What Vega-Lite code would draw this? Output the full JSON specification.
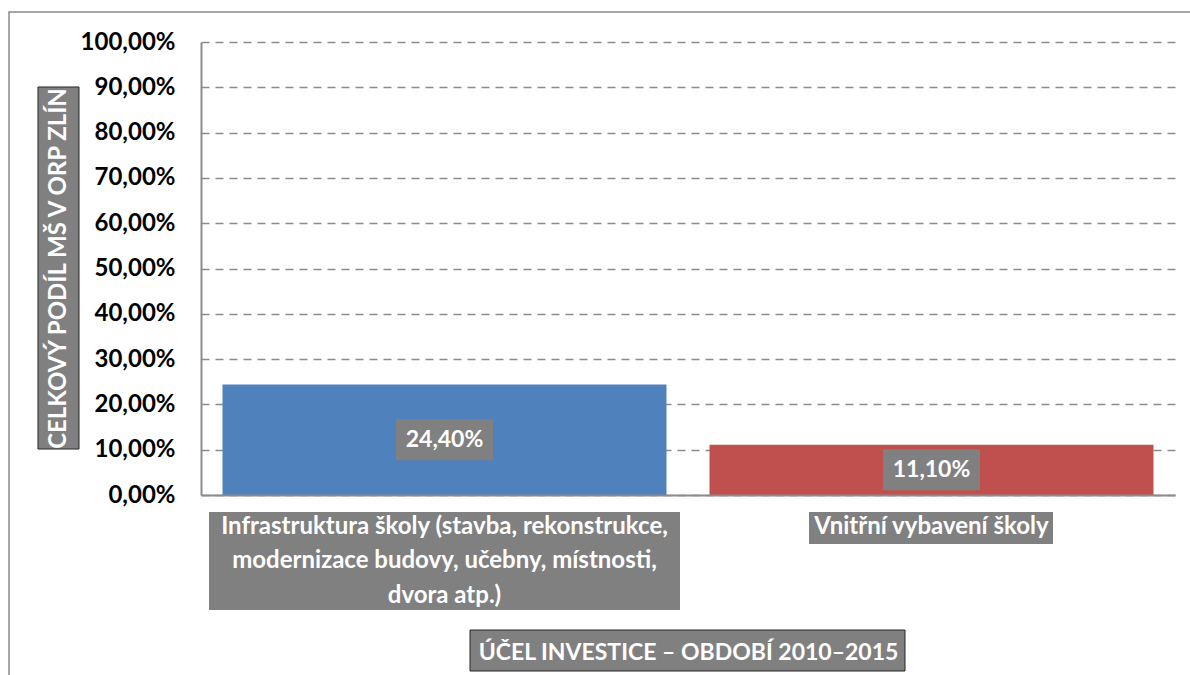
{
  "$schema": "https://vega.github.io/schema/vega-lite/v6.json",
  "width": 974,
  "height": 453,
  "autosize": {"type": "none"},
  "padding": {"left": 201, "top": 42, "right": 15, "bottom": 180},
  "background": "white",
  "config": {"view": {"stroke": null}, "font": "Lato"},
  "datasets": {
    "bars": [
      {"cat": "Infrastruktura školy (stavba, rekonstrukce, modernizace budovy, učebny, místnosti, dvora atp.)", "v": 0.244},
      {"cat": "Vnitřní vybavení školy", "v": 0.111}
    ],
    "ytitle": [{"t": "CELKOVÝ PODÍL MŠ V ORP ZLÍN"}]
  },
  "data": {"name": "bars"},
  "layer": [
    {
      "data": {"name": "ytitle"},
      "mark": {"type": "point", "shape": "M-0.679,-0.2565L0.52,-0.2565L0.52,0.44L-0.679,0.44Z", "size": 4000000, "filled": false, "stroke": "#898989", "strokeWidth": 1.5, "opacity": 1},
      "encoding": {}
    },
    {
      "mark": {"type": "bar"},
      "encoding": {
        "x": {
          "field": "cat", "type": "nominal", "sort": null,
          "scale": {"type": "band", "paddingInner": 0.0883, "paddingOuter": 0.04415},
          "axis": {
            "title": "ÚČEL INVESTICE – OBDOBÍ 2010–2015",
            "zindex": 1,
            "labelAngle": 0,
            "labelExpr": "datum.label == 'Vnitřní vybavení školy' ? datum.label : ['Infrastruktura školy (stavba, rekonstrukce,', 'modernizace budovy, učebny, místnosti,', 'dvora atp.)']",
            "labelFont": "Lato", "labelFontSize": 24, "labelFontWeight": "bold", "labelColor": "white",
            "labelLineHeight": 34.5, "labelBaseline": "top", "labelPadding": 19, "labelLimit": 0, "labelOverlap": false,
            "ticks": false, "domainColor": "#8c8c8c", "domainWidth": 2,
            "titleFont": "Lato", "titleFontSize": 23, "titleFontWeight": "bold", "titleColor": "white", "titlePadding": 34
          }
        },
        "y": {
          "field": "v", "type": "quantitative",
          "scale": {"domain": [0, 1], "nice": false},
          "axis": {
            "title": null, "grid": true, "gridDash": [8, 6], "gridColor": "#8c8c8c", "gridWidth": 1.5,
            "domainColor": "#8c8c8c", "domainWidth": 2, "ticks": false, "tickCount": 10,
            "labelFont": "Lato", "labelFontSize": 24, "labelFontWeight": "bold", "labelColor": "black", "labelPadding": 26,
            "labelExpr": "replace(format(datum.value, '.2%'), '.', ',')"
          }
        },
        "color": {"field": "cat", "type": "nominal", "sort": null, "scale": {"range": ["#4F81BD", "#C0504D"]}, "legend": null}
      }
    },
    {
      "mark": {"type": "point", "size": 250000, "filled": true, "fill": "#808080", "strokeWidth": 0, "opacity": 1},
      "encoding": {
        "x": {"field": "cat", "type": "nominal", "sort": null},
        "y": {"datum": 0, "type": "quantitative"},
        "shape": {"field": "cat", "type": "nominal", "sort": null, "legend": null,
          "scale": {"range": ["M-0.942,0.068L0.942,0.068L0.942,0.46L-0.942,0.46Z", "M-0.49,0.068L0.486,0.068L0.486,0.196L-0.49,0.196Z"]}}
      }
    },
    {
      "transform": [
        {"calculate": "datum.v / 2", "as": "mid"}
      ],
      "mark": {"type": "point", "shape": "M-0.97,-0.41L0.97,-0.41L0.97,0.41L-0.97,0.41Z", "size": 10000, "filled": true, "fill": "#808080", "strokeWidth": 0, "opacity": 1},
      "encoding": {
        "x": {"field": "cat", "type": "nominal", "sort": null},
        "y": {"field": "mid", "type": "quantitative"}
      }
    },
    {
      "transform": [
        {"calculate": "datum.v / 2", "as": "mid"},
        {"calculate": "replace(format(datum.v, '.2%'), '.', ',')", "as": "lbl"}
      ],
      "mark": {"type": "text", "font": "Lato", "fontSize": 23, "fontWeight": "bold", "color": "white", "baseline": "middle", "align": "center"},
      "encoding": {
        "x": {"field": "cat", "type": "nominal", "sort": null},
        "y": {"field": "mid", "type": "quantitative"},
        "text": {"field": "lbl"}
      }
    },
    {
      "data": {"name": "ytitle"},
      "mark": {"type": "point", "shape": "M-0.9286,-0.2593L-0.87,-0.2593L-0.87,0.2579L-0.9286,0.2579Z", "size": 1960000, "filled": true, "fill": "#808080", "stroke": "#262626", "strokeWidth": 1, "opacity": 1},
      "encoding": {}
    },
    {
      "data": {"name": "ytitle"},
      "mark": {"type": "point", "shape": "M-0.436,0.723L0.434,0.723L0.434,0.805L-0.436,0.805Z", "size": 1000000, "filled": true, "fill": "#808080", "stroke": "#262626", "strokeWidth": 1, "opacity": 1},
      "encoding": {}
    },
    {
      "data": {"name": "ytitle"},
      "mark": {"type": "text", "angle": 270, "xOffset": -629.5, "font": "Lato", "fontSize": 24, "fontWeight": "bold", "color": "white", "baseline": "middle", "align": "center"},
      "encoding": {"text": {"field": "t"}}
    }
  ]
}
